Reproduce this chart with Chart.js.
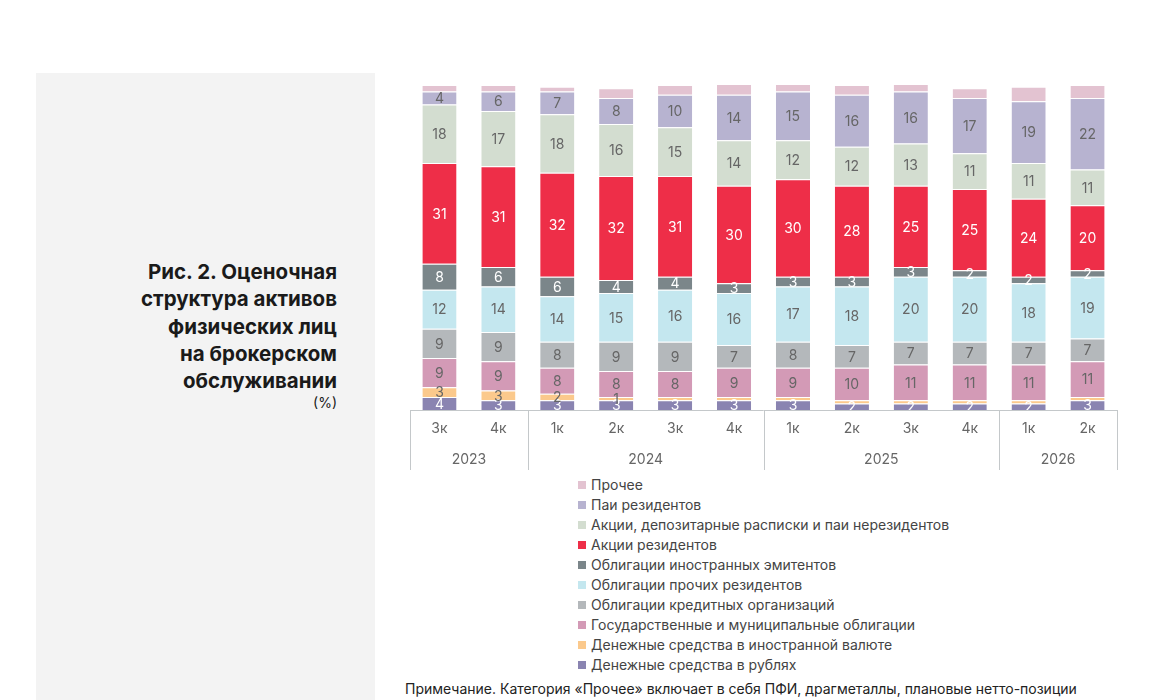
<!DOCTYPE html>
<html><head><meta charset="utf-8">
<script src="https://cdn.jsdelivr.net/npm/chart.js@4"></script>
<style>
body{margin:0;width:1175px;height:700px;background:#fff;font-family:Inter,"Noto Sans",sans-serif;position:relative;overflow:hidden}
#panel{position:absolute;left:36px;top:73px;width:339px;height:627px;background:#f3f3f3}
#title{position:absolute;right:838px;top:258px;text-align:right;font-weight:700;font-size:20.5px;line-height:27.3px;color:#1a1a1a}
#unit{position:absolute;right:838px;top:394px;font-size:14px;color:#1a1a1a}
#wrap{position:absolute;left:400px;top:80px;width:730px;height:390px}
#legend{position:absolute;left:578px;top:475px;font-size:14px;color:#444;line-height:20px}
#legend div{display:flex;align-items:center}
#legend span{display:inline-block;width:8px;height:8px;margin-right:5px}
#note{position:absolute;left:405px;top:680px;font-size:14px;color:#222}
</style></head><body>
<div id="panel"></div>
<div id="title">Рис. 2. Оценочная<br>структура активов<br>физических лиц<br>на брокерском<br>обслуживании</div>
<div id="unit">(%)</div>
<div id="wrap"><canvas id="c"></canvas></div>
<div id="legend"></div>
<div id="note">Примечание. Категория «Прочее» включает в себя ПФИ, драгметаллы, плановые нетто-позиции</div>
<script>
const quarters=["3к","4к","1к","2к","3к","4к","1к","2к","3к","4к","1к","2к"];
const years=[["2023",0,2],["2024",2,6],["2025",6,10],["2026",10,12]];
const rub=[4,3,3,3,3,3,3,2,2,2,2,3];
const fx=[3,3,2,1,1,1,1,1,1,1,1,1];
const gov=[9,9,8,8,8,9,9,10,11,11,11,11];
const credit=[9,9,8,9,9,7,8,7,7,7,7,7];
const otherRes=[12,14,14,15,16,16,17,18,20,20,18,19];
const foreign=[8,6,6,4,4,3,3,3,3,2,2,2];
const shares=[31,31,32,32,31,30,30,28,25,25,24,20];
const foreignShares=[18,17,18,16,15,14,12,12,13,11,11,11];
const pai=[4,6,7,8,10,14,15,16,16,17,19,22];
const other=[2,2,1.5,3,3,3.5,3,3,2.5,3,4.5,4];
const showLabel1=[3]; // fx index with label "1"
const series=[
["Денежные средства в рублях",rub,"#8a84b1","#fff"],
["Денежные средства в иностранной валюте",fx,"#fbc98c","#666"],
["Государственные и муниципальные облигации",gov,"#d39ab6","#666"],
["Облигации кредитных организаций",credit,"#b4b8bb","#666"],
["Облигации прочих резидентов",otherRes,"#c4e7ef","#666"],
["Облигации иностранных эмитентов",foreign,"#7b868a","#fff"],
["Акции резидентов",shares,"#ee2e48","#fff"],
["Акции, депозитарные расписки и паи нерезидентов",foreignShares,"#d3ddd0","#666"],
["Паи резидентов",pai,"#b7b3d0","#666"],
["Прочее",other,"#e3c3d1",null]];
const lg=document.getElementById('legend');
series.slice().reverse().forEach(s=>{lg.innerHTML+=`<div><span style="background:${s[2]}"></span>${s[0]}</div>`});
const labelsPlugin={id:'lbl',afterDatasetsDraw(ch){const c=ch.ctx;c.save();c.font='14px Inter, sans-serif';c.textAlign='center';c.textBaseline='middle';
ch.data.datasets.forEach((d,i)=>{const col=series[i][3];if(!col)return;ch.getDatasetMeta(i).data.forEach((b,j)=>{const v=d.data[j];
if(v<2&&!(i===1&&showLabel1.includes(j)))return;c.fillStyle=col;c.fillText(String(v),b.x,(b.y+b.base)/2+1);});});c.restore();}};
const axisPlugin={id:'ax',afterDraw(ch){const c=ch.ctx,a=ch.chartArea,x=ch.scales.x;c.save();c.strokeStyle='#c4c8ca';c.lineWidth=1;
c.beginPath();c.moveTo(a.left,a.bottom+0.5);c.lineTo(a.right,a.bottom+0.5);c.stroke();
c.font='14px Inter, sans-serif';c.fillStyle='#666';c.textAlign='center';c.textBaseline='middle';
quarters.forEach((q,i)=>c.fillText(q,x.getPixelForValue(i),a.bottom+19));
const w=(a.right-a.left)/quarters.length;
years.forEach(([y,s,e])=>{c.fillText(y,a.left+w*(s+e)/2,a.bottom+50);});
[0,2,6,10,12].forEach(k=>{const px=Math.round(a.left+w*k)+0.5;c.beginPath();c.moveTo(px,a.bottom);c.lineTo(px,a.bottom+60);c.stroke();});
c.restore();}};
new Chart(document.getElementById('c'),{type:'bar',
data:{labels:quarters,datasets:series.map(s=>({label:s[0],data:s[1],backgroundColor:s[2],borderColor:'#fff',borderWidth:{top:1},barPercentage:0.58,categoryPercentage:1}))},
options:{responsive:true,maintainAspectRatio:false,animation:false,layout:{padding:{left:10,right:13,top:5,bottom:60}},
plugins:{legend:{display:false},tooltip:{enabled:false}},
scales:{x:{stacked:true,display:false},y:{stacked:true,display:false,min:0,max:100}}},
plugins:[labelsPlugin,axisPlugin]});
</script></body></html>
